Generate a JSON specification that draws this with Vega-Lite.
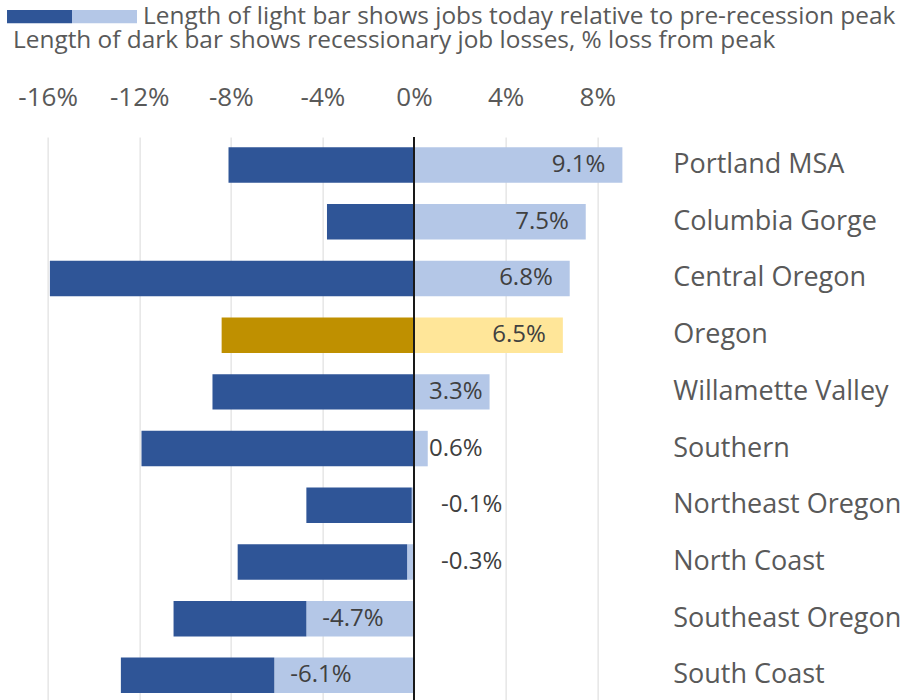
{
  "$schema": "https://vega.github.io/schema/vega-lite/v6.json",
  "width": 595.4,
  "height": 563,
  "autosize": {"type": "none"},
  "padding": {"left": 47.6, "top": 137, "right": 261, "bottom": 0},
  "background": "#ffffff",
  "config": {
    "font": "Open Sans",
    "view": {"stroke": null},
    "locale": {"number": {"decimal": ".", "thousands": ",", "grouping": [3], "currency": ["$", ""], "minus": "-", "percent": "%"}}
  },
  "data": {
    "values": [
      {"region": "Portland MSA", "part": "light", "series": "Region today", "value": 0.091},
      {"region": "Portland MSA", "part": "dark", "series": "Region loss", "value": -0.081},
      {"region": "Columbia Gorge", "part": "light", "series": "Region today", "value": 0.075},
      {"region": "Columbia Gorge", "part": "dark", "series": "Region loss", "value": -0.038},
      {"region": "Central Oregon", "part": "light", "series": "Region today", "value": 0.068},
      {"region": "Central Oregon", "part": "dark", "series": "Region loss", "value": -0.159},
      {"region": "Oregon", "part": "light", "series": "Oregon today", "value": 0.065},
      {"region": "Oregon", "part": "dark", "series": "Oregon loss", "value": -0.084},
      {"region": "Willamette Valley", "part": "light", "series": "Region today", "value": 0.033},
      {"region": "Willamette Valley", "part": "dark", "series": "Region loss", "value": -0.088},
      {"region": "Southern", "part": "light", "series": "Region today", "value": 0.006},
      {"region": "Southern", "part": "dark", "series": "Region loss", "value": -0.119},
      {"region": "Northeast Oregon", "part": "light", "series": "Region today", "value": -0.001},
      {"region": "Northeast Oregon", "part": "dark", "series": "Region loss", "value": -0.046},
      {"region": "North Coast", "part": "light", "series": "Region today", "value": -0.003},
      {"region": "North Coast", "part": "dark", "series": "Region loss", "value": -0.074},
      {"region": "Southeast Oregon", "part": "light", "series": "Region today", "value": -0.047},
      {"region": "Southeast Oregon", "part": "dark", "series": "Region loss", "value": -0.058},
      {"region": "South Coast", "part": "light", "series": "Region today", "value": -0.061},
      {"region": "South Coast", "part": "dark", "series": "Region loss", "value": -0.067}
    ]
  },
  "encoding": {
    "y": {
      "field": "region",
      "type": "nominal",
      "sort": null,
      "scale": {"paddingInner": 0.374, "paddingOuter": 0.152, "align": 0.6},
      "axis": {
        "orient": "right",
        "title": null,
        "domain": false,
        "ticks": false,
        "labelPadding": 29.7,
        "labelFontSize": 27,
        "labelColor": "#595959",
        "labelAlign": "left",
        "labelBaseline": "middle",
        "labelLimit": 300
      }
    }
  },
  "layer": [
    {
      "mark": {"type": "bar"},
      "encoding": {
        "x": {
          "field": "value",
          "type": "quantitative",
          "stack": "zero",
          "scale": {"domain": [-0.16, 0.10], "nice": false, "zero": false},
          "axis": {
            "orient": "top",
            "title": null,
            "values": [-0.16, -0.12, -0.08, -0.04, 0, 0.04, 0.08],
            "format": ".0%",
            "grid": true,
            "gridColor": "#D9D9D9",
            "gridWidth": 1,
            "ticks": false,
            "domain": false,
            "labelFlush": false,
            "labelOverlap": false,
            "labelFontSize": 26,
            "labelColor": "#595959",
            "labelPadding": 27
          }
        },
        "order": {"field": "part", "sort": "descending"},
        "color": {
          "field": "series",
          "type": "nominal",
          "scale": {
            "domain": ["Region loss", "Region today", "Oregon loss", "Oregon today"],
            "range": ["#2F5597", "#B4C7E7", "#BF9000", "#FFE699"]
          },
          "legend": {
            "values": ["Region loss", "Region today"],
            "orient": "none",
            "direction": "horizontal",
            "legendX": -34.6,
            "legendY": -150,
            "padding": 0,
            "symbolType": "M-1.203,-0.225H1V0.225H-1.203Z",
            "symbolSize": 3481,
            "symbolStrokeWidth": 0,
            "symbolOpacity": 1,
            "labelOffset": 6,
            "columnPadding": -6,
            "labelFontSize": 24.4,
            "labelColor": "#595959",
            "labelLimit": 900,
            "labelExpr": "datum.value === 'Region today' ? 'Length of light bar shows jobs today relative to pre-recession peak' : ''",
            "title": "Length of dark bar shows recessionary job losses, % loss from peak",
            "titleOrient": "bottom",
            "titleFontSize": 24.4,
            "titleFontWeight": "normal",
            "titleColor": "#595959",
            "titlePadding": 1,
            "titleLimit": 900,
            "titleAnchor": "start"
          }
        }
      }
    },
    {
      "mark": {"type": "rule", "color": "#1a1a1a", "strokeWidth": 1.5},
      "encoding": {"x": {"datum": 0}, "y": null}
    },
    {
      "transform": [{"filter": "datum.part === 'light' && datum.value >= 0.05"}],
      "mark": {"type": "text", "align": "right", "baseline": "middle", "dx": -17, "fontSize": 24, "color": "#404040"},
      "encoding": {"x": {"field": "value", "type": "quantitative"}, "text": {"field": "value", "format": ".1%"}}
    },
    {
      "transform": [{"filter": "datum.part === 'light' && datum.value >= 0 && datum.value < 0.05"}],
      "mark": {"type": "text", "align": "left", "baseline": "middle", "dx": 15, "fontSize": 24, "color": "#404040"},
      "encoding": {"x": {"datum": 0}, "text": {"field": "value", "format": ".1%"}}
    },
    {
      "transform": [{"filter": "datum.part === 'light' && datum.value < 0 && datum.value > -0.01"}],
      "mark": {"type": "text", "align": "left", "baseline": "middle", "dx": 27, "fontSize": 24, "color": "#404040"},
      "encoding": {"x": {"datum": 0}, "text": {"field": "value", "format": ".1%"}}
    },
    {
      "transform": [{"filter": "datum.part === 'light' && datum.value <= -0.01"}],
      "mark": {"type": "text", "align": "left", "baseline": "middle", "dx": 16, "fontSize": 24, "color": "#404040"},
      "encoding": {"x": {"field": "value", "type": "quantitative"}, "text": {"field": "value", "format": ".1%"}}
    }
  ]
}
